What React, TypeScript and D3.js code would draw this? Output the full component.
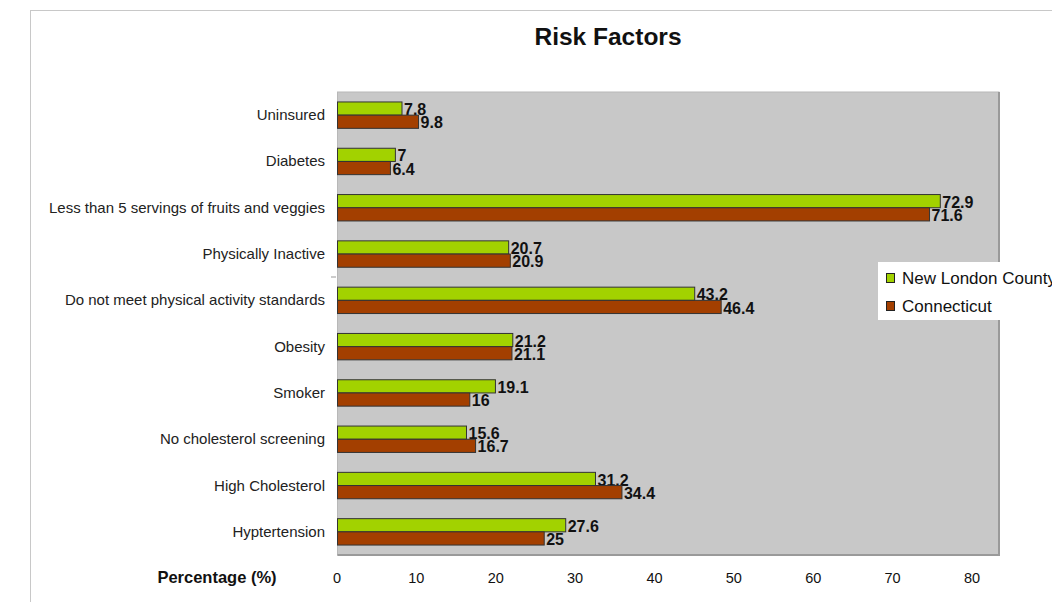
import React from "react";
import * as d3 from "d3";

const categories = [
  "Uninsured",
  "Diabetes",
  "Less than 5 servings of fruits and veggies",
  "Physically Inactive",
  "Do not meet physical activity standards",
  "Obesity",
  "Smoker",
  "No cholesterol screening",
  "High Cholesterol",
  "Hyptertension",
];
const newLondon = [7.8, 7, 72.9, 20.7, 43.2, 21.2, 19.1, 15.6, 31.2, 27.6];
const connecticut = [9.8, 6.4, 71.6, 20.9, 46.4, 21.1, 16, 16.7, 34.4, 25];
const ticks = [0, 10, 20, 30, 40, 50, 60, 70, 80];
const seriesNames = ["New London County", "Connecticut"];
const colors = ["#a2d200", "#a33f00"];

const W = 1052;
const H = 602;
const plot = { left: 337.5, right: 999, top: 92, bottom: 555 };

export default function App() {
  const x = d3.scaleLinear().domain([0, 80]).range([plot.left, plot.right]);
  const xLabel = d3.scaleLinear().domain([0, 80]).range([337, 972]);
  const y = d3.scaleBand<string>().domain(categories).range([plot.top, plot.bottom]).padding(0);
  const bw = y.bandwidth();
  const barH = bw * 0.285;
  const font = "'Liberation Sans', Arial, sans-serif";
  const series = [newLondon, connecticut];

  return (
    <svg
      width={W}
      height={H}
      style={{ position: "absolute", left: 0, top: 0, background: "#fff" }}
      fontFamily={font}
    >
      <rect x={30.5} y={10.5} width={1100} height={700} fill="#fff" stroke="#c8c8c8" />
      <text x={608} y={45} textAnchor="middle" fontSize={24.5} fontWeight="bold" fill="#111">
        Risk Factors
      </text>
      {/* plot area */}
      <rect
        x={plot.left}
        y={plot.top}
        width={plot.right - plot.left}
        height={plot.bottom - plot.top}
        fill="#c8c8c8"
        stroke="#b8b8b8"
      />
      <line x1={plot.right} x2={plot.right} y1={plot.top} y2={plot.bottom + 1} stroke="#9a9a9a" strokeWidth={2} />
      <line x1={plot.left} x2={plot.right + 1} y1={plot.bottom} y2={plot.bottom} stroke="#9a9a9a" strokeWidth={2} />
      <line x1={331} x2={336} y1={277} y2={277} stroke="#999" />

      {categories.map((c, i) => {
        const cy = (y(c) as number) + bw / 2;
        return (
          <g key={c}>
            <text x={325} y={cy + 5} textAnchor="end" fontSize={15} fill="#222">
              {c}
            </text>
            {series.map((s, k) => {
              const by = k === 0 ? cy - barH : cy;
              return (
                <g key={k}>
                  <rect
                    x={x(0)}
                    y={by}
                    width={x(s[i]) - x(0)}
                    height={barH}
                    fill={colors[k]}
                    stroke="#333"
                    strokeWidth={1}
                  />
                  <text
                    x={x(s[i]) + 2}
                    y={by + barH}
                    fontSize={16}
                    fontWeight="bold"
                    fill="#111"
                  >
                    {s[i]}
                  </text>
                </g>
              );
            })}
          </g>
        );
      })}

      {/* x tick labels */}
      {ticks.map((t) => (
        <text key={t} x={xLabel(t)} y={583} textAnchor="middle" fontSize={14.5} fill="#111">
          {t}
        </text>
      ))}
      <text x={217} y={583} textAnchor="middle" fontSize={16.5} fontWeight="bold" fill="#111">
        Percentage (%)
      </text>

      {/* legend */}
      <rect x={878} y={262} width={200} height={58} fill="#fff" />
      {seriesNames.map((n, k) => {
        const ly = 278 + k * 28;
        return (
          <g key={n}>
            <rect x={886.5} y={ly - 4.5} width={8} height={9} fill={colors[k]} stroke="#222" />
            <text x={902} y={ly + 6} fontSize={17} fill="#111">
              {n}
            </text>
          </g>
        );
      })}
    </svg>
  );
}
